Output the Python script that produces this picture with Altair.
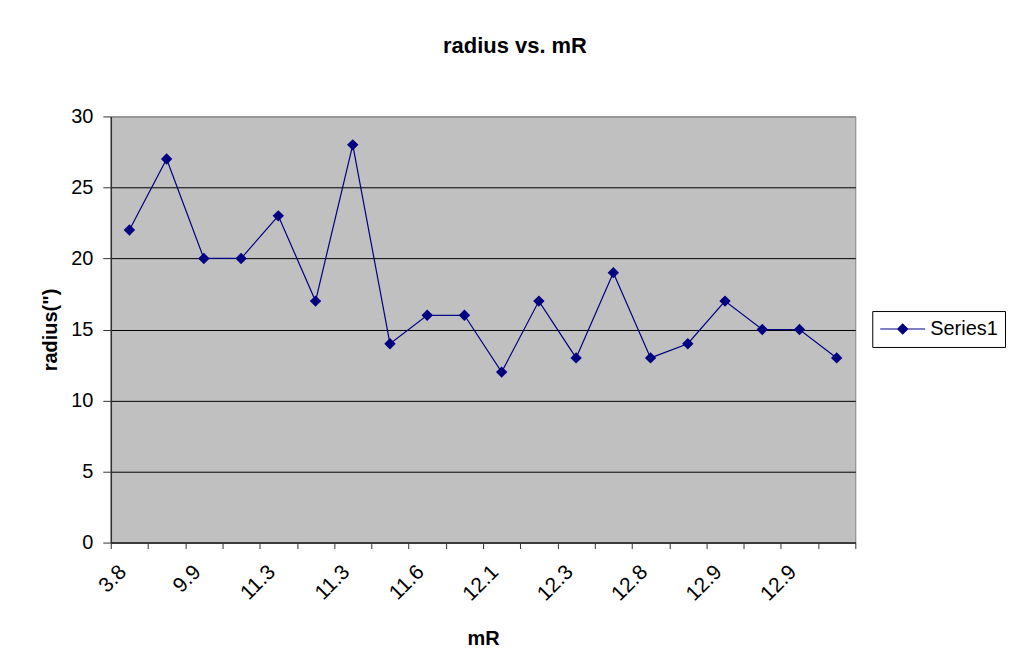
import altair as alt
import pandas as pd

# Data
mr_labels = ["3.8", "8.6", "9.9", "10.8", "11.3", "11.3", "11.3", "11.4", "11.6", "11.9",
             "12.1", "12.2", "12.3", "12.5", "12.8", "12.8", "12.9", "12.9", "12.9", "13.0"]
radius = [22, 27, 20, 20, 23, 17, 28, 14, 16, 16, 12, 17, 13, 19, 13, 14, 17, 15, 15, 13]
series = ["Series1"] * len(radius)
y_ticks = [0, 5, 10, 15, 20, 25, 30]

df = pd.DataFrame({
    "pos": [i + 0.5 for i in range(len(radius))],
    "radius": radius,
    "series": series,
    "mR": mr_labels,
})

# every other category label is shown, as in the reference
shown = [lab if i % 2 == 0 else "" for i, lab in enumerate(mr_labels)] + [""]
label_expr = "[" + ",".join("'%s'" % s for s in shown) + "][datum.value]"

FONT = "Liberation Sans"
NAVY = "#000080"
n = len(radius)

x_enc = alt.X(
    "pos:Q",
    scale=alt.Scale(domain=[0, n], nice=False, zero=False),
    axis=alt.Axis(
        title="mR",
        values=list(range(n + 1)),
        labelExpr=label_expr,
        labelAngle=-45,
        labelAlign="right",
        labelBaseline="middle",
        labelOffset=12,
        labelPadding=20,
        labelFontSize=21,
        labelFont=FONT,
        labelColor="black",
        tickSize=6,
        tickColor="#333333",
        domainColor="#333333",
        domainWidth=1.5,
        grid=False,
        titleFont=FONT,
        titleFontSize=20,
        titleFontWeight="bold",
        titleColor="black",
        titlePadding=24,
    ),
)

y_enc = alt.Y(
    "radius:Q",
    scale=alt.Scale(domain=[0, 30], nice=False),
    axis=alt.Axis(
        title='radius(")',
        values=y_ticks,
        labelFontSize=20,
        labelFont=FONT,
        labelColor="black",
        labelPadding=10,
        tickSize=8,
        tickColor="#333333",
        domainColor="#333333",
        domainWidth=1.5,
        grid=True,
        gridColor={"condition": {"test": "datum.value === 30", "value": "#808080"}, "value": "black"},
        gridWidth=1,
        titleFont=FONT,
        titleFontSize=20,
        titleFontWeight="bold",
        titleColor="black",
        titlePadding=10,
    ),
)

line = alt.Chart(df).mark_line(color=NAVY, strokeWidth=1.2).encode(x=x_enc, y=y_enc)

points = alt.Chart(df).mark_point(shape="diamond", filled=True, size=130, opacity=1).encode(
    x=x_enc,
    y=y_enc,
    color=alt.Color(
        "series:N",
        scale=alt.Scale(range=[NAVY]),
        legend=alt.Legend(
            title=None,
            orient="none",
            legendX=763,
            legendY=195,
            symbolType="M-1,0H1M0,-0.22L0.22,0L0,0.22L-0.22,0Z",
            symbolSize=2025,
            symbolFillColor=NAVY,
            symbolStrokeColor=NAVY,
            symbolStrokeWidth=1.2,
            symbolOffset=0,
            clipHeight=22,
            labelFont=FONT,
            labelFontSize=20,
            labelColor="black",
            labelOffset=4,
            padding=7,
            strokeColor="black",
            fillColor="white",
            cornerRadius=0,
        ),
    ),
)

chart = (
    alt.layer(line, points)
    .properties(
        width=746,
        height=427,
        padding={"left": 32, "top": 26, "right": 0, "bottom": 0},
        background="white",
        title=alt.TitleParams(
            text="radius vs. mR",
            font=FONT,
            fontSize=22,
            fontWeight="bold",
            color="black",
            anchor="middle",
            frame="group",
            dx=32,
            offset=49,
        ),
    )
    .configure_view(fill="#C0C0C0", stroke="#808080", strokeWidth=1)
)

chart.save("out.html", embed_options={"renderer": "svg", "actions": False})
